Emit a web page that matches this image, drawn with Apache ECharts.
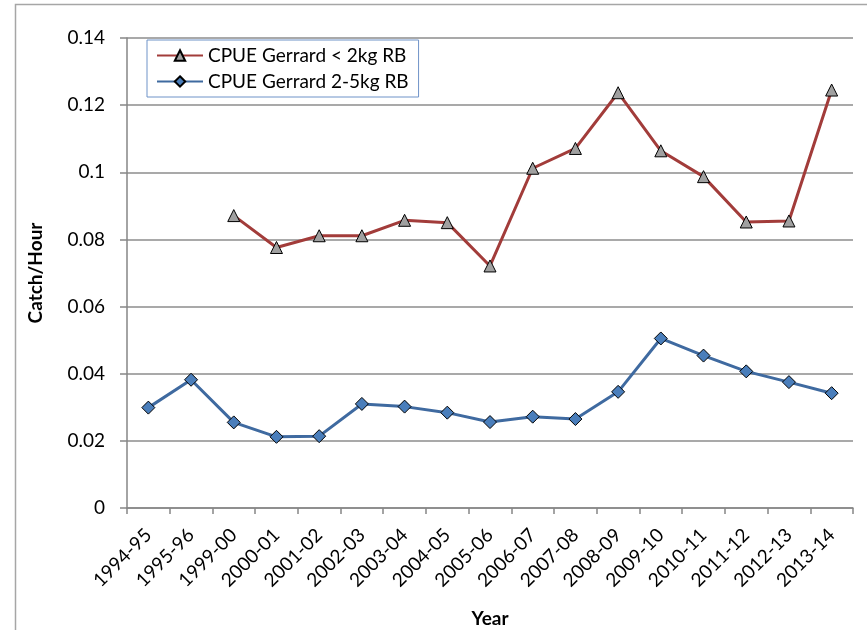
<!DOCTYPE html>
<html>
<head>
<meta charset="utf-8">
<script src="https://cdn.jsdelivr.net/npm/echarts@6/dist/echarts.min.js"></script>
<style>
  html, body { margin: 0; padding: 0; background: #fff; }
  #chart { width: 867px; height: 630px; }
</style>
</head>
<body>
<div id="chart"></div>
<script>
var years = ['1994-95', '1995-96', '1999-00', '2000-01', '2001-02', '2002-03',
  '2003-04', '2004-05', '2005-06', '2006-07', '2007-08', '2008-09', '2009-10',
  '2010-11', '2011-12', '2012-13', '2013-14'];

// CPUE Gerrard < 2kg RB (no data for the first two seasons)
var smallRB = [null, null, 0.0871, 0.0776, 0.0811, 0.0811, 0.0857, 0.0850,
  0.0721, 0.1012, 0.1071, 0.1237, 0.1064, 0.0987, 0.0852, 0.0855, 0.1245];

// CPUE Gerrard 2-5kg RB
var midRB = [0.0299, 0.0382, 0.0255, 0.0212, 0.0214, 0.0310, 0.0302, 0.0284,
  0.0256, 0.0272, 0.0265, 0.0346, 0.0505, 0.0454, 0.0407, 0.0375, 0.0342];

var font = 'Lato, "Open Sans", sans-serif';

var myChart = echarts.init(document.getElementById('chart'));

var option = {
  animation: false,
  textStyle: { fontFamily: font },
  graphic: [{
    type: 'rect',
    shape: { x: 15.5, y: 4.5, width: 900, height: 700 },
    style: { fill: 'none', stroke: '#a6a6a6', lineWidth: 1.5 },
    silent: true
  }],
  legend: {
    orient: 'vertical',
    left: 147,
    top: 40,
    padding: [6, 10, 6, 9],
    itemGap: 7,
    itemWidth: 46,
    itemHeight: 13,
    borderColor: '#6f93c8',
    borderWidth: 1,
    textStyle: { fontFamily: font, fontSize: 19, color: '#000' },
    data: ['CPUE Gerrard < 2kg RB', 'CPUE Gerrard 2-5kg RB']
  },
  grid: {
    left: 127,
    right: 14,
    top: 38,
    bottom: 122,
    containLabel: false,
    outerBoundsMode: 'none'
  },
  xAxis: {
    type: 'category',
    data: years,
    boundaryGap: true,
    name: 'Year',
    nameLocation: 'center',
    nameGap: 101,
    nameTextStyle: { fontFamily: font, fontSize: 19, fontWeight: 'bold', color: '#000' },
    axisLine: { lineStyle: { color: '#868686', width: 1.5 } },
    axisTick: { show: true, length: 6, alignWithLabel: false, lineStyle: { color: '#868686', width: 1.5 } },
    axisLabel: {
      rotate: 45,
      interval: 0,
      margin: 24,
      fontFamily: font,
      fontSize: 19,
      color: '#000'
    },
    splitLine: { show: false }
  },
  yAxis: {
    type: 'value',
    min: 0,
    max: 0.14,
    interval: 0.02,
    name: 'Catch/Hour',
    nameLocation: 'center',
    nameGap: 82,
    nameRotate: 90,
    nameTextStyle: { fontFamily: font, fontSize: 19, fontWeight: 'bold', color: '#000' },
    axisLine: { show: true, lineStyle: { color: '#868686', width: 1.5 } },
    axisTick: { show: true, length: 7, lineStyle: { color: '#868686', width: 1.5 } },
    axisLabel: {
      margin: 22,
      fontFamily: font,
      fontSize: 19,
      color: '#000',
      formatter: function (v) {
        return String(Math.round(v * 100) / 100);
      }
    },
    splitLine: { show: true, lineStyle: { color: '#8c8c8c', width: 1.5 } }
  },
  series: [{
    name: 'CPUE Gerrard < 2kg RB',
    type: 'line',
    data: smallRB,
    connectNulls: false,
    symbol: 'triangle',
    symbolSize: 12,
    lineStyle: { color: '#a23c3a', width: 3 },
    itemStyle: { color: '#a0a0a0', borderColor: '#000', borderWidth: 1 }
  }, {
    name: 'CPUE Gerrard 2-5kg RB',
    type: 'line',
    data: midRB,
    symbol: 'diamond',
    symbolSize: 13,
    lineStyle: { color: '#3f6aa0', width: 3 },
    itemStyle: { color: '#4a7ebb', borderColor: '#000', borderWidth: 1 }
  }]
};

myChart.setOption(option);
</script>
</body>
</html>
